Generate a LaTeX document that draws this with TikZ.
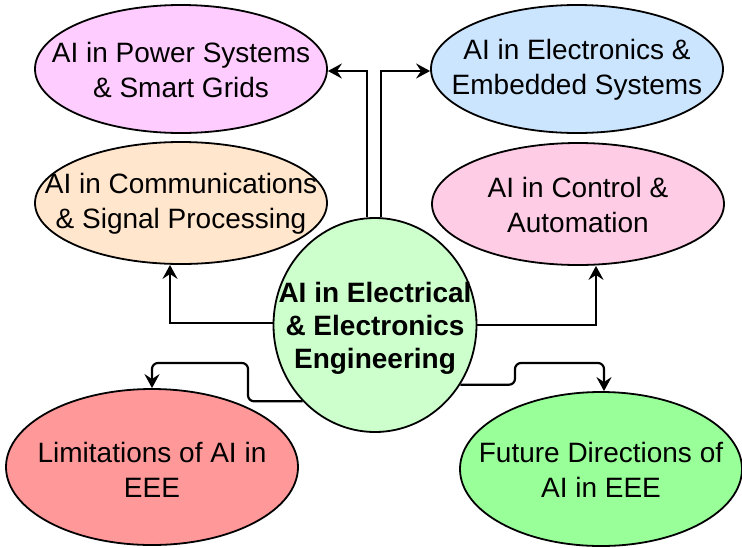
\documentclass[tikz,border=0pt]{standalone}
\usepackage{fontspec}
\setmainfont{Liberation Sans}
\usetikzlibrary{shapes.geometric,arrows.meta}

\definecolor{powerfill}{HTML}{FFCCFF}
\definecolor{elecfill}{HTML}{CCE5FF}
\definecolor{commfill}{HTML}{FFE6CC}
\definecolor{ctrlfill}{HTML}{FFCCE6}
\definecolor{limfill}{HTML}{FF9999}
\definecolor{futfill}{HTML}{99FF99}
\definecolor{corefill}{HTML}{CCFFCC}

\tikzset{
  topic/.style={ellipse, draw=black, line width=1.8pt, inner sep=0pt},
  topictext/.style={align=center, inner sep=0pt, font=\fontsize{28}{35}\selectfont},
  coretext/.style={align=center, inner sep=0pt, font=\fontsize{28}{33}\selectfont\bfseries},
  conn/.style={draw=black, line width=2.2pt,
    -{Stealth[length=14pt,width=15pt,inset=5pt]}},
}

\begin{document}
\begin{tikzpicture}[x=1pt,y=-1pt]
\useasboundingbox (0,0) rectangle (742,547);

% topic ellipses
\node[topic, fill=powerfill, minimum width=292pt, minimum height=128pt] (pw) at (181,69) {};
\node[topic, fill=elecfill, minimum width=292pt, minimum height=128pt] (el) at (577,69) {};
\node[topic, fill=commfill, minimum width=292pt, minimum height=122pt] (cm) at (181,203) {};
\node[topic, fill=ctrlfill, minimum width=292pt, minimum height=122pt] (ct) at (578,204) {};
\node[topic, fill=limfill, minimum width=292pt, minimum height=156pt] (lim) at (152,467) {};
\node[topic, fill=futfill, minimum width=282pt, minimum height=154pt] (fu) at (601,469) {};

% central topic
\node[topic, fill=corefill, minimum width=203pt, minimum height=214pt] (c) at (375,325) {};

% texts
\node[topictext] (pwt) at ([yshift=-1pt]pw.center) {AI in Power Systems\\\& Smart Grids};
\node[topictext] (elt) at ([yshift=-1pt]el.center) {AI in Electronics \&\\Embedded Systems};
\node[topictext] (cmt) at ([yshift=-1pt]cm.center) {AI in Communications\\\& Signal Processing};
\node[topictext] (ctt) at ([yshift=-1pt]ct.center) {AI in Control \&\\Automation};
\node[topictext] (limt) at ([yshift=-3pt]lim.center) {Limitations of AI in\\EEE};
\node[topictext] (fut) at ([yshift=-1pt]fu.center) {Future Directions of\\AI in EEE};
\node[coretext] (ct0) at ([yshift=-3pt]c.center) {AI in Electrical\\\& Electronics\\Engineering};

% bend points of the lower connectors
\coordinate (l1) at (248,363);
\coordinate (f1) at (515,363);

% connectors
\draw[conn] ([xshift=-8pt]c.north) |- (pw.east |- 0,71);
\draw[conn] ([xshift=6pt]c.north) |- (el.west |- 0,71);
\draw[conn] ([yshift=2pt]c.west) -| ([xshift=-11pt]cm.south);
\draw[conn] (c.east) -| ([xshift=18pt]ct.south);
\draw[conn, rounded corners=6pt] (c.south west) -| (l1) -| (lim.north);
\draw[conn, rounded corners=6pt] (c.-35) -| (f1) -| ([xshift=3pt]fu.north);
\end{tikzpicture}
\end{document}
